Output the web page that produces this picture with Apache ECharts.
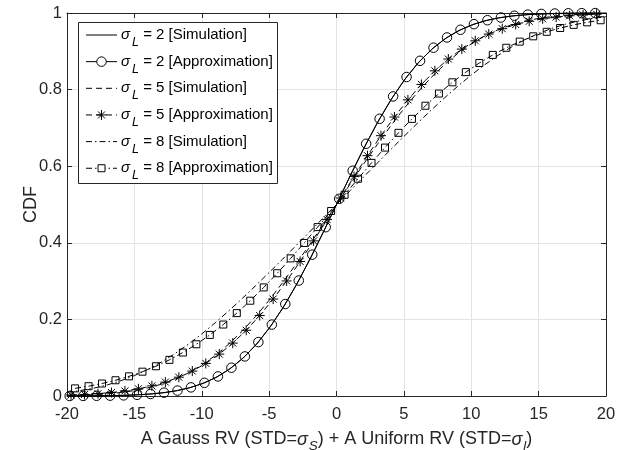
<!DOCTYPE html>
<html>
<head>
<meta charset="utf-8">
<script src="https://cdn.jsdelivr.net/npm/echarts@6/dist/echarts.min.js"></script>
<style>
html,body{margin:0;padding:0;background:#fff;}
#c{width:625px;height:450px;}
</style>
</head>
<body>
<div id="c"></div>
<script>
// ---- data ----
const xTicks = [-20, -15, -10, -5, 0, 5, 10, 15, 20];
const yTicks = [0, 0.2, 0.4, 0.6, 0.8, 1];

const simX = [-20,-19,-18,-17,-16,-15,-14,-13,-12,-11,-10,-9,-8,-7,-6,-5,-4,-3,-2,-1,0,1,2,3,4,5,6,7,8,9,10,11,12,13,14,15,16,17,18,19,20];
const simL2 = [0.0001,0.0002,0.0004,0.0008,0.0015,0.0027,0.0047,0.0079,0.0129,0.0205,0.0317,0.0473,0.0687,0.0968,0.1326,0.1766,0.2288,0.2887,0.3552,0.4263,0.5,0.5737,0.6448,0.7113,0.7712,0.8234,0.8674,0.9032,0.9313,0.9527,0.9683,0.9795,0.9871,0.9921,0.9953,0.9973,0.9985,0.9992,0.9996,0.9998,0.9999];
const simL5 = [0.0011,0.0020,0.0035,0.0057,0.0091,0.0141,0.0212,0.0307,0.0436,0.0600,0.0806,0.1056,0.1352,0.1693,0.2077,0.2500,0.2959,0.3445,0.3950,0.4472,0.5,0.5528,0.6050,0.6555,0.7041,0.7500,0.7923,0.8307,0.8648,0.8944,0.9194,0.9400,0.9564,0.9693,0.9788,0.9859,0.9909,0.9943,0.9965,0.9980,0.9989];
const simL8 = [0.0096,0.0143,0.0206,0.0291,0.0398,0.0532,0.0694,0.0886,0.1104,0.1350,0.1620,0.1912,0.2221,0.2545,0.2880,0.3224,0.3574,0.3928,0.4284,0.4642,0.5,0.5358,0.5716,0.6072,0.6426,0.6776,0.7120,0.7455,0.7779,0.8088,0.8380,0.8650,0.8896,0.9114,0.9306,0.9468,0.9602,0.9709,0.9794,0.9857,0.9904];

const apxL2X = [-19.8,-18.8,-17.8,-16.8,-15.8,-14.8,-13.8,-12.8,-11.8,-10.8,-9.8,-8.8,-7.8,-6.8,-5.8,-4.8,-3.8,-2.8,-1.8,-0.8,0.2,1.2,2.2,3.2,4.2,5.2,6.2,7.2,8.2,9.2,10.2,11.2,12.2,13.2,14.2,15.2,16.2,17.2,18.2,19.2];
const apxL2 = [0.0001,0.0002,0.0005,0.0009,0.0017,0.0030,0.0052,0.0087,0.0142,0.0225,0.0344,0.0511,0.0738,0.1033,0.1407,0.1864,0.2401,0.3015,0.3691,0.4408,0.5148,0.5882,0.6586,0.7238,0.7822,0.8329,0.8752,0.9094,0.9361,0.9562,0.9709,0.9812,0.9882,0.9929,0.9958,0.9976,0.9987,0.9993,0.9996,0.9998];

const apxL5X = [-19.7,-18.7,-17.7,-16.7,-15.7,-14.7,-13.7,-12.7,-11.7,-10.7,-9.7,-8.7,-7.7,-6.7,-5.7,-4.7,-3.7,-2.7,-1.7,-0.7,0.3,1.3,2.3,3.3,4.3,5.3,6.3,7.3,8.3,9.3,10.3,11.3,12.3,13.3,14.3,15.3,16.3,17.3,18.3,19.3];
const apxL5 = [0.0027,0.0041,0.0062,0.0091,0.0132,0.0188,0.0264,0.0363,0.0490,0.0651,0.0851,0.1093,0.1381,0.1717,0.2101,0.2531,0.3004,0.3513,0.4050,0.4606,0.5169,0.5729,0.6275,0.6797,0.7284,0.7732,0.8135,0.8490,0.8798,0.9058,0.9274,0.9450,0.9590,0.9700,0.9784,0.9848,0.9894,0.9928,0.9952,0.9968];

const apxL8X = [-19.4,-18.4,-17.4,-16.4,-15.4,-14.4,-13.4,-12.4,-11.4,-10.4,-9.4,-8.4,-7.4,-6.4,-5.4,-4.4,-3.4,-2.4,-1.4,-0.4,0.6,1.6,2.6,3.6,4.6,5.6,6.6,7.6,8.6,9.6,10.6,11.6,12.6,13.6,14.6,15.6,16.6,17.6,18.6,19.6];
const apxL8 = [0.0199,0.0256,0.0326,0.0411,0.0513,0.0635,0.0777,0.0944,0.1135,0.1351,0.1595,0.1866,0.2164,0.2488,0.2835,0.3205,0.3593,0.3996,0.4410,0.4831,0.5254,0.5673,0.6086,0.6486,0.6871,0.7236,0.7579,0.7897,0.8190,0.8456,0.8694,0.8906,0.9092,0.9253,0.9391,0.9509,0.9608,0.9690,0.9757,0.9811];

const legendLabels = [
  ['L', ' = 2 [Simulation]'],
  ['L', ' = 2 [Approximation]'],
  ['L', ' = 5 [Simulation]'],
  ['L', ' = 5 [Approximation]'],
  ['L', ' = 8 [Simulation]'],
  ['L', ' = 8 [Approximation]']
];

// ---- styling ----
const FONT = '"Liberation Sans", Arial, Helvetica, sans-serif';
const AX = '#262626';
const GRIDC = '#e3e3e3';
const DASH = [6, 4];
const DASHDOT = [6, 3, 1.5, 3];
const STAR = 'path://M10,0L10,20M0,10L20,10M3,3L17,17M3,17L17,3';

const pairs = (xs, ys) => xs.map((x, i) => [x, ys[i]]);

function lineSeries(name, xs, ys, dash, symbol, size) {
  return {
    name: name,
    type: 'line',
    data: pairs(xs, ys),
    symbol: symbol || 'none',
    symbolSize: size || 0,
    showSymbol: !!symbol,
    showAllSymbol: true,
    clip: false,
    silent: true,
    animation: false,
    lineStyle: { color: '#000', width: 1, type: dash },
    itemStyle: { color: 'rgba(0,0,0,0)', borderColor: '#000', borderWidth: 1 },
    emphasis: { disabled: true },
    z: 3
  };
}

const series = [
  lineSeries('s2', simX, simL2, 'solid'),
  lineSeries('a2', apxL2X, apxL2, 'solid', 'circle', 9.5),
  lineSeries('s5', simX, simL5, DASH),
  lineSeries('a5', apxL5X, apxL5, DASH, STAR, 10),
  lineSeries('s8', simX, simL8, DASHDOT),
  lineSeries('a8', apxL8X, apxL8, DASHDOT, 'rect', 7)
];

// ---- legend drawn as graphics ----
const LG = { x: 78.5, y: 22.5, w: 199, h: 161, x1: 86, x2: 117, tx: 121, row0: 35, step: 26.65 };
const legendStyles = [
  { dash: null, mark: null },
  { dash: null, mark: 'circle' },
  { dash: DASH, mark: null },
  { dash: DASH, mark: 'star' },
  { dash: DASHDOT, mark: null },
  { dash: DASHDOT, mark: 'rect' }
];
const richLegend = {
  s: { fontFamily: FONT, fontStyle: 'italic', fontSize: 15, color: '#000' },
  sub: { fontFamily: FONT, fontStyle: 'italic', fontSize: 12.5, padding: [15, 0, 0, 2], color: '#000' },
  t: { fontFamily: FONT, fontSize: 15, color: '#000' }
};
const graphics = [{
  type: 'rect', z: 10, silent: true,
  shape: { x: LG.x, y: LG.y, width: LG.w, height: LG.h },
  style: { fill: '#fff', stroke: AX, lineWidth: 1 }
}];
legendLabels.forEach((lab, i) => {
  const y = LG.row0 + i * LG.step;
  const st = legendStyles[i];
  graphics.push({
    type: 'line', z: 11, silent: true,
    shape: { x1: LG.x1, y1: y, x2: LG.x2, y2: y },
    style: { stroke: '#000', lineWidth: 1, lineDash: st.dash }
  });
  const cx = (LG.x1 + LG.x2) / 2;
  if (st.mark === 'circle') {
    graphics.push({ type: 'circle', z: 12, silent: true, shape: { cx: cx, cy: y, r: 4.75 }, style: { fill: '#fff', stroke: '#000', lineWidth: 1 } });
  } else if (st.mark === 'rect') {
    graphics.push({ type: 'rect', z: 12, silent: true, shape: { x: cx - 3.5, y: y - 3.5, width: 7, height: 7 }, style: { fill: '#fff', stroke: '#000', lineWidth: 1 } });
  } else if (st.mark === 'star') {
    const r = 5;
    const d = 3.5;
    [[0, -r, 0, r], [-r, 0, r, 0], [-d, -d, d, d], [-d, d, d, -d]].forEach(s => {
      graphics.push({ type: 'line', z: 12, silent: true, shape: { x1: cx + s[0], y1: y + s[1], x2: cx + s[2], y2: y + s[3] }, style: { stroke: '#000', lineWidth: 1 } });
    });
  }
  graphics.push({
    type: 'text', z: 12, silent: true, x: LG.tx, y: y,
    style: {
      text: '{s|σ}{sub|' + lab[0] + '}{t|' + lab[1] + '}',
      rich: richLegend,
      verticalAlign: 'middle',
      align: 'left',
      fill: '#000'
    }
  });
});

const tickLabel = { fontFamily: FONT, fontSize: 16.5, color: AX };

const option = {
  animation: false,
  backgroundColor: '#fff',
  grid: { left: 67, right: 19, top: 13, bottom: 54, containLabel: false, outerBoundsMode: 'none' },
  xAxis: [{
    type: 'value',
    min: xTicks[0], max: xTicks[xTicks.length - 1], interval: xTicks[1] - xTicks[0],
    position: 'bottom',
    axisLine: { show: true, onZero: false, lineStyle: { color: AX, width: 1 } },
    axisTick: { show: true, inside: true, length: 5, lineStyle: { color: AX } },
    splitLine: { show: true, lineStyle: { color: GRIDC, width: 1 } },
    axisLabel: Object.assign({ margin: 10 }, tickLabel),
    name: '{t|A Gauss RV (STD=}{s|σ}{sub|S}{t|) + A Uniform RV (STD=}{s|σ}{sub|l}{t|)}',
    nameLocation: 'middle',
    nameGap: 30,
    nameMoveOverlap: false,
    nameTextStyle: {
      rich: {
        t: { fontFamily: FONT, fontSize: 18, color: AX },
        s: { fontFamily: FONT, fontSize: 18, fontStyle: 'italic', color: AX },
        sub: { fontFamily: FONT, fontSize: 13.5, fontStyle: 'italic', color: AX, padding: [13, 0, 0, 1] }
      }
    }
  }, {
    type: 'value',
    min: xTicks[0], max: xTicks[xTicks.length - 1], interval: xTicks[1] - xTicks[0],
    position: 'top',
    axisLine: { show: true, onZero: false, lineStyle: { color: AX, width: 1 } },
    axisTick: { show: true, inside: true, length: 5, lineStyle: { color: AX } },
    splitLine: { show: false },
    axisLabel: { show: false }
  }],
  yAxis: [{
    type: 'value',
    min: yTicks[0], max: yTicks[yTicks.length - 1], interval: yTicks[1] - yTicks[0],
    position: 'left',
    axisLine: { show: true, onZero: false, lineStyle: { color: AX, width: 1 } },
    axisTick: { show: true, inside: true, length: 5, lineStyle: { color: AX } },
    splitLine: { show: true, lineStyle: { color: GRIDC, width: 1 } },
    axisLabel: Object.assign({ margin: 5 }, tickLabel),
    name: 'CDF',
    nameLocation: 'middle',
    nameGap: 27,
    nameMoveOverlap: false,
    nameTextStyle: { fontFamily: FONT, fontSize: 18, color: AX }
  }, {
    type: 'value',
    min: yTicks[0], max: yTicks[yTicks.length - 1], interval: yTicks[1] - yTicks[0],
    position: 'right',
    axisLine: { show: true, onZero: false, lineStyle: { color: AX, width: 1 } },
    axisTick: { show: true, inside: true, length: 5, lineStyle: { color: AX } },
    splitLine: { show: false },
    axisLabel: { show: false }
  }],
  series: series,
  graphic: graphics
};

const chart = echarts.init(document.getElementById('c'), null, { renderer: 'canvas' });
chart.setOption(option);
</script>
</body>
</html>
